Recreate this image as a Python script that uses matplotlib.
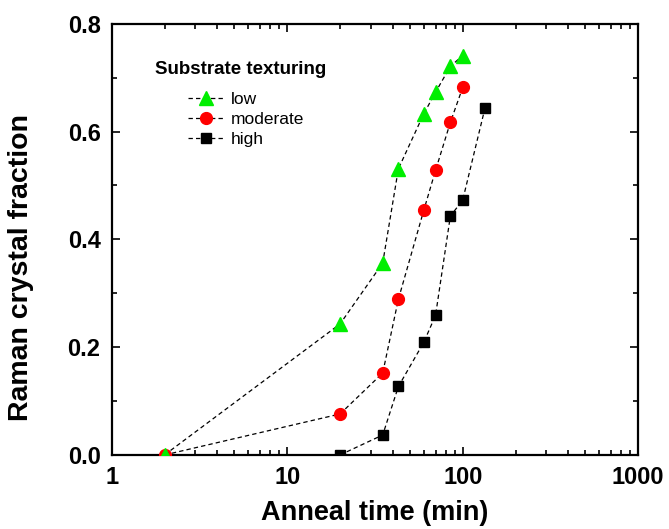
import numpy as np
import matplotlib.pyplot as plt
from matplotlib.ticker import LogLocator, NullFormatter, MultipleLocator

plt.rcParams['font.family'] = ['Liberation Sans', 'DejaVu Sans']

# anneal times (min) and Raman crystal fraction per texturing level
t_low = [2, 20, 35, 43, 60, 70, 85, 100]
f_low = [0.0, 0.243, 0.356, 0.531, 0.633, 0.673, 0.721, 0.741]

t_mod = [2, 20, 35, 43, 60, 70, 85, 100]
f_mod = [0.0, 0.076, 0.152, 0.289, 0.454, 0.528, 0.617, 0.682]

t_high = [20, 35, 43, 60, 70, 85, 100, 134]
f_high = [0.0, 0.037, 0.127, 0.209, 0.259, 0.443, 0.473, 0.644]

fig = plt.figure(figsize=(6.69, 5.29), dpi=100)
ax = fig.add_axes([0.167, 0.140, 0.787, 0.815])

dash = (0, (3.5, 2.5))
ax.plot(t_high, f_high, ls=dash, color='black', lw=0.9,
        marker='s', ms=7, mfc='black', mec='black', label='high', zorder=3)
ax.plot(t_mod, f_mod, ls=dash, color='black', lw=0.9,
        marker='o', ms=8.5, mfc='red', mec='red', label='moderate', zorder=4)
ax.plot(t_low, f_low, ls=dash, color='black', lw=0.9,
        marker='^', ms=9.5, mfc='#00ee00', mec='#00ee00', label='low', zorder=5)

ax.set_xscale('log')
ax.set_xlim(1, 1000)
ax.set_ylim(0, 0.8)
ax.set_xticks([1, 10, 100, 1000])
ax.set_xticklabels(['1', '10', '100', '1000'])
ax.xaxis.set_minor_locator(LogLocator(base=10, subs=np.arange(2, 10)))
ax.xaxis.set_minor_formatter(NullFormatter())
ax.yaxis.set_major_locator(MultipleLocator(0.2))
ax.yaxis.set_minor_locator(MultipleLocator(0.1))
ax.yaxis.set_major_formatter(plt.FormatStrFormatter('%.1f'))

ax.tick_params(which='both', direction='in', top=True, right=True, width=1.2)
ax.tick_params(which='major', length=6, labelsize=17, pad=8)
ax.tick_params(which='minor', length=3.5)
for lab in ax.get_xticklabels() + ax.get_yticklabels():
    lab.set_fontweight('bold')
for s in ax.spines.values():
    s.set_linewidth(1.6)

ax.set_xlabel('Anneal time (min)', fontsize=19.5, fontweight='bold', labelpad=8)
ax.set_ylabel('Raman crystal fraction', fontsize=20.5, fontweight='bold')
ax.yaxis.set_label_coords(-0.147, 0.434)

ax.text(0.082, 0.893, 'Substrate texturing', transform=ax.transAxes,
        fontsize=13.5, fontweight='bold', ha='left', va='center')

handles, labels = ax.get_legend_handles_labels()
leg = ax.legend(handles[::-1], labels[::-1], loc='upper left',
                bbox_to_anchor=(0.145, 0.843), frameon=False, fontsize=12.5,
                handlelength=2.1, labelspacing=0.3, handletextpad=0.35,
                borderpad=0, borderaxespad=0)

fig.savefig('out.png', dpi=100)
